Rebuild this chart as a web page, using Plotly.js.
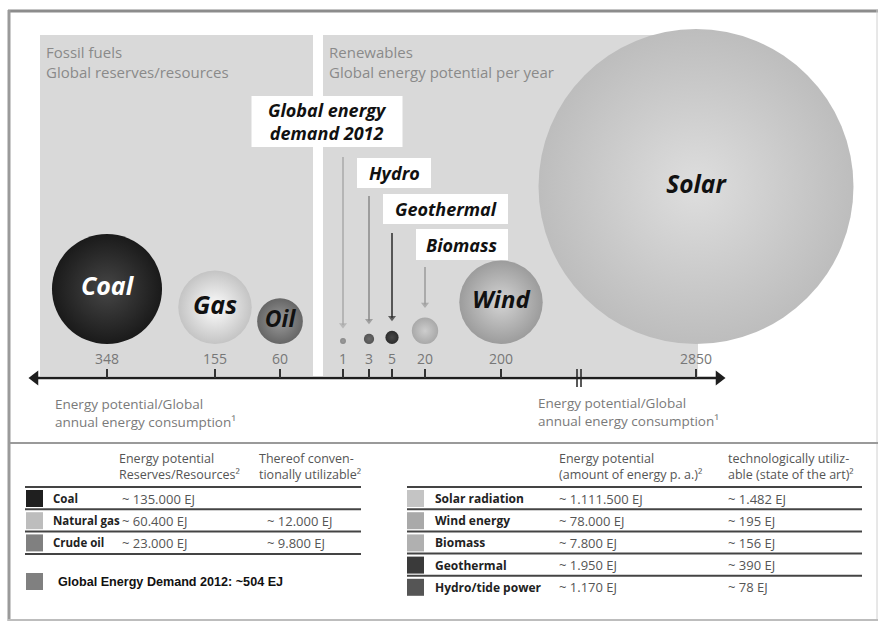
<!DOCTYPE html>
<html><head><meta charset="utf-8">
<script src="https://cdn.plot.ly/plotly-3.0.1.min.js"></script>
<style>html,body{margin:0;padding:0;background:#fff}#chart{width:879px;height:623px}</style>
</head><body><div id="chart"></div>
<script>
// ---------------- DATA ----------------
const sources = ['Coal','Gas','Oil','Global energy demand 2012','Hydro','Geothermal','Biomass','Wind','Solar'];
const ratio = [348,155,60,1,3,5,20,200,2850]; // energy potential / global annual energy consumption
const bubbleText = ['Coal','Gas','Oil','','','','','Wind','Solar'];

const fossilRows = ['Coal','Natural gas','Crude oil'];
const fossilPotential = ['~ 135.000 EJ','~ 60.400 EJ','~ 23.000 EJ'];
const fossilUtilizable = ['','~ 12.000 EJ','~ 9.800 EJ'];

const renewRows = ['Solar radiation','Wind energy','Biomass','Geothermal','Hydro/tide power'];
const renewPotential = ['~ 1.111.500 EJ','~ 78.000 EJ','~ 7.800 EJ','~ 1.950 EJ','~ 1.170 EJ'];
const renewUtilizable = ['~ 1.482 EJ','~ 195 EJ','~ 156 EJ','~ 390 EJ','~ 78 EJ'];

const demandLabel = 'Global Energy Demand 2012';
const demandValue = '~504 EJ';

// ---------------- LAYOUT / STYLE ----------------
const W = 879, H = 623;
const SLOT_X = [107,215,280,343,369,392,425,501,696];
const BASE_Y = 344, AXIS_Y = 378, K = 2.95;
const edgeColors   = ['#1a1a1a','#c4c4c4','#666666','#8a8a8a','#555555','#2c2c2c','#a9a9a9','#9c9c9c','#bdbdbd'];
const centerColors = ['#464646','#fdfdfd','#9a9a9a','#9a9a9a','#6a6a6a','#474747','#cdcdcd','#d4d4d4','#dedede'];
const textColors   = ['#ffffff','#111','#111','#111','#111','#111','#111','#111','#111'];
const textSizes    = [25,25,23,10,10,10,10,24,24.5];

const fossilSq = ['#1f1f1f','#bdbdbd','#808080'];
const demandSq = '#808080';
const renewSq  = ['#c4c4c4','#a9a9a9','#b0b0b0','#3a3a3a','#555555'];

const radius = v => K * Math.sqrt(v);
const bubbleY = ratio.map(v => BASE_Y - radius(v));

const FONT = 'Open Sans, DejaVu Sans, sans-serif';
const GRAY = '#8a8a8a';

const traces = [];
// bubbles
traces.push({
  type:'scatter', mode:'markers', x:SLOT_X, y:bubbleY,
  cliponaxis:false, hoverinfo:'skip', showlegend:false,
  marker:{size:ratio, sizemode:'area', sizeref:1/(2*K*K), color:edgeColors, opacity:1,
          gradient:{type:'radial', color:centerColors}, line:{width:0}}
});
// bubble labels (only labelled bubbles)
const lab = bubbleText.map((t,i)=>i).filter(i=>bubbleText[i]);
traces.push({
  type:'scatter', mode:'text', x:lab.map(i=>SLOT_X[i]), y:lab.map(i=>bubbleY[i]),
  text:lab.map(i=>bubbleText[i]), textposition:'middle center', cliponaxis:false, hoverinfo:'skip', showlegend:false,
  textfont:{family:FONT, weight:700, style:'italic', size:lab.map(i=>textSizes[i]), color:lab.map(i=>textColors[i])}
});

// axis line with arrowheads
traces.push({
  type:'scatter', mode:'lines+markers', x:[35,719], y:[AXIS_Y,AXIS_Y], cliponaxis:false, hoverinfo:'skip', showlegend:false,
  line:{color:'#1e1e1e', width:2.5},
  marker:{symbol:['triangle-left','triangle-right'], size:13, color:'#1e1e1e', line:{width:0}}
});

// pointer arrows for demand / hydro / geothermal / biomass
const BOX = {3:{cx:327,cy:121.5,w:151,h:51,from:157,col:'#a8a8a8'},
             4:{cx:394,cy:173,w:74,h:30,from:196,col:'#888888'},
             5:{cx:445.5,cy:209,w:125,h:30,from:233,col:'#2a2a2a'},
             6:{cx:462,cy:244.5,w:92,h:31,from:267,col:'#9a9a9a'}};
Object.keys(BOX).forEach(k=>{
  const i = +k, b = BOX[k];
  const tip = bubbleY[i] - radius(ratio[i]) - 13;
  traces.push({
    type:'scatter', mode:'lines+markers', x:[SLOT_X[i],SLOT_X[i]], y:[b.from, tip],
    cliponaxis:false, hoverinfo:'skip', showlegend:false,
    line:{color:b.col, width:1.5},
    marker:{symbol:'triangle-down', size:[0,7], color:b.col, line:{width:0}}
  });
});

// table colour squares
const LROW_Y = fossilRows.map((_,i)=>498.5 + i*22.2);
const RROW_Y = renewRows.map((_,i)=>498.5 + i*22.2);
const DEMAND_Y = 581.5;
traces.push({
  type:'scatter', mode:'markers', hoverinfo:'skip', showlegend:false, cliponaxis:false,
  x: fossilRows.map(()=>34.5).concat([34.5]).concat(renewRows.map(()=>415.5)),
  y: LROW_Y.concat([DEMAND_Y]).concat(RROW_Y),
  marker:{symbol:'square', size:17, color:fossilSq.concat([demandSq]).concat(renewSq), line:{width:0}}
});

const shapes = [];
const ann = [];
function block(text, x, y, font, xanchor){
  ann.push({x:x, y:y, xanchor:xanchor||'left', yanchor:'middle', align:xanchor==='center'?'center':'left',
    showarrow:false, text:text, font:font});
}
// outer frame
shapes.push({type:'line', x0:8, x1:878, y0:11, y1:11, line:{color:'#8c8c8c', width:3}, layer:'below'});
shapes.push({type:'line', x0:9, x1:9, y0:10, y1:621, line:{color:'#9a9a9a', width:3}, layer:'below'});
shapes.push({type:'line', x0:877, x1:877, y0:10, y1:621, line:{color:'#d0d0d0', width:1}, layer:'below'});
shapes.push({type:'line', x0:8, x1:878, y0:620, y1:620, line:{color:'#bdbdbd', width:2}, layer:'below'});
shapes.push({type:'line', x0:8, x1:878, y0:443, y1:443, line:{color:'#9a9a9a', width:2}, layer:'below'});
// panels
shapes.push({type:'rect', x0:40, x1:313, y0:35, y1:376, fillcolor:'#d9d9d9', line:{width:0}, layer:'below'});
shapes.push({type:'rect', x0:323, x1:698, y0:35, y1:376, fillcolor:'#d9d9d9', line:{width:0}, layer:'below'});
// axis break marks
[577,581].forEach(x=>shapes.push({type:'line', x0:x, x1:x, y0:369, y1:387, line:{color:'#222', width:1.5}}));

// panel headings
const HF = {family:FONT, size:15, color:GRAY};
block('Fossil fuels<br>Global reserves/resources', 44, 62, HF);
block('Renewables<br>Global energy potential per year', 327, 62, HF);

// axis titles
const AF = {family:FONT, size:13.5, color:'#7a7a7a'};
const axTitle = 'Energy potential/Global<br>annual energy consumption¹';
block(axTitle, 53, 412.5, AF);
block(axTitle, 536, 411.5, AF);

// label boxes (white) + bold italic labels
const LF = {family:FONT, size:18, weight:700, style:'italic', color:'#111'};
Object.keys(BOX).forEach(k=>{
  const i = +k, b = BOX[k];
  shapes.push({type:'rect', x0:b.cx-b.w/2, x1:b.cx+b.w/2, y0:b.cy-b.h/2, y1:b.cy+b.h/2, fillcolor:'#ffffff', line:{width:0}});
  block(sources[i].replace(' demand','<br>demand'), b.cx, b.cy, LF, 'center');
});

// ---------- tables ----------
const TF = {family:FONT, size:13, color:'#555'};
const TH = {family:FONT, size:12.5, color:'#555'};
const TB = {family:FONT, size:11.5, weight:700, color:'#222'};
block('Energy potential<br>Reserves/Resources²', 117, 466.5, TH);
block('Thereof conven-<br>tionally utilizable²', 257, 466.5, TH);
block('Energy potential<br>(amount of energy p. a.)²', 557, 466.5, TH);
block('technologically utiliz-<br>able (state of the art)²', 726, 466.5, TH);

fossilRows.forEach((r,i)=>{
  const y = LROW_Y[i];
  block(r, 51, y, TB);
  block(fossilPotential[i], 120, y, TF);
  if (fossilUtilizable[i]) block(fossilUtilizable[i], 265, y, TF);
});
[0,1,2,3].forEach(i=>shapes.push({type:'line', x0:25, x1:361, y0:487+i*22.3, y1:487+i*22.3, line:{color:'#444', width:2}}));

renewRows.forEach((r,i)=>{
  const y = RROW_Y[i];
  block(r, 433, y, {family:FONT, size:12, weight:700, color:'#222'});
  block(renewPotential[i], 557, y, TF);
  block(renewUtilizable[i], 726, y, TF);
});
[0,1,2,3,4].forEach(i=>shapes.push({type:'line', x0:407, x1:862, y0:487+i*22.2, y1:487+i*22.2, line:{color:'#444', width:2}}));

block(demandLabel + ': ' + demandValue, 56, DEMAND_Y,
  {family:'Liberation Sans, Arial, sans-serif', size:12.6, weight:700, color:'#111'});

const layout = {
  width:W, height:H, margin:{l:0,r:0,t:0,b:0},
  paper_bgcolor:'#ffffff', plot_bgcolor:'#ffffff', showlegend:false,
  xaxis:{range:[0,W], anchor:'free', position:(H-AXIS_Y)/H, tickmode:'array', tickvals:SLOT_X,
         ticktext:ratio.map(String), ticks:'inside', ticklen:9, tickwidth:2, tickcolor:'#333',
         ticklabelposition:'inside', ticklabelstandoff:2, showgrid:false, zeroline:false, showline:false, fixedrange:true,
         tickfont:{family:FONT, size:14, color:'#777'}},
  yaxis:{range:[H,0], visible:false, fixedrange:true},
  shapes:shapes, annotations:ann
};
Plotly.newPlot('chart', traces, layout, {displayModeBar:false, staticPlot:true});
</script></body></html>
